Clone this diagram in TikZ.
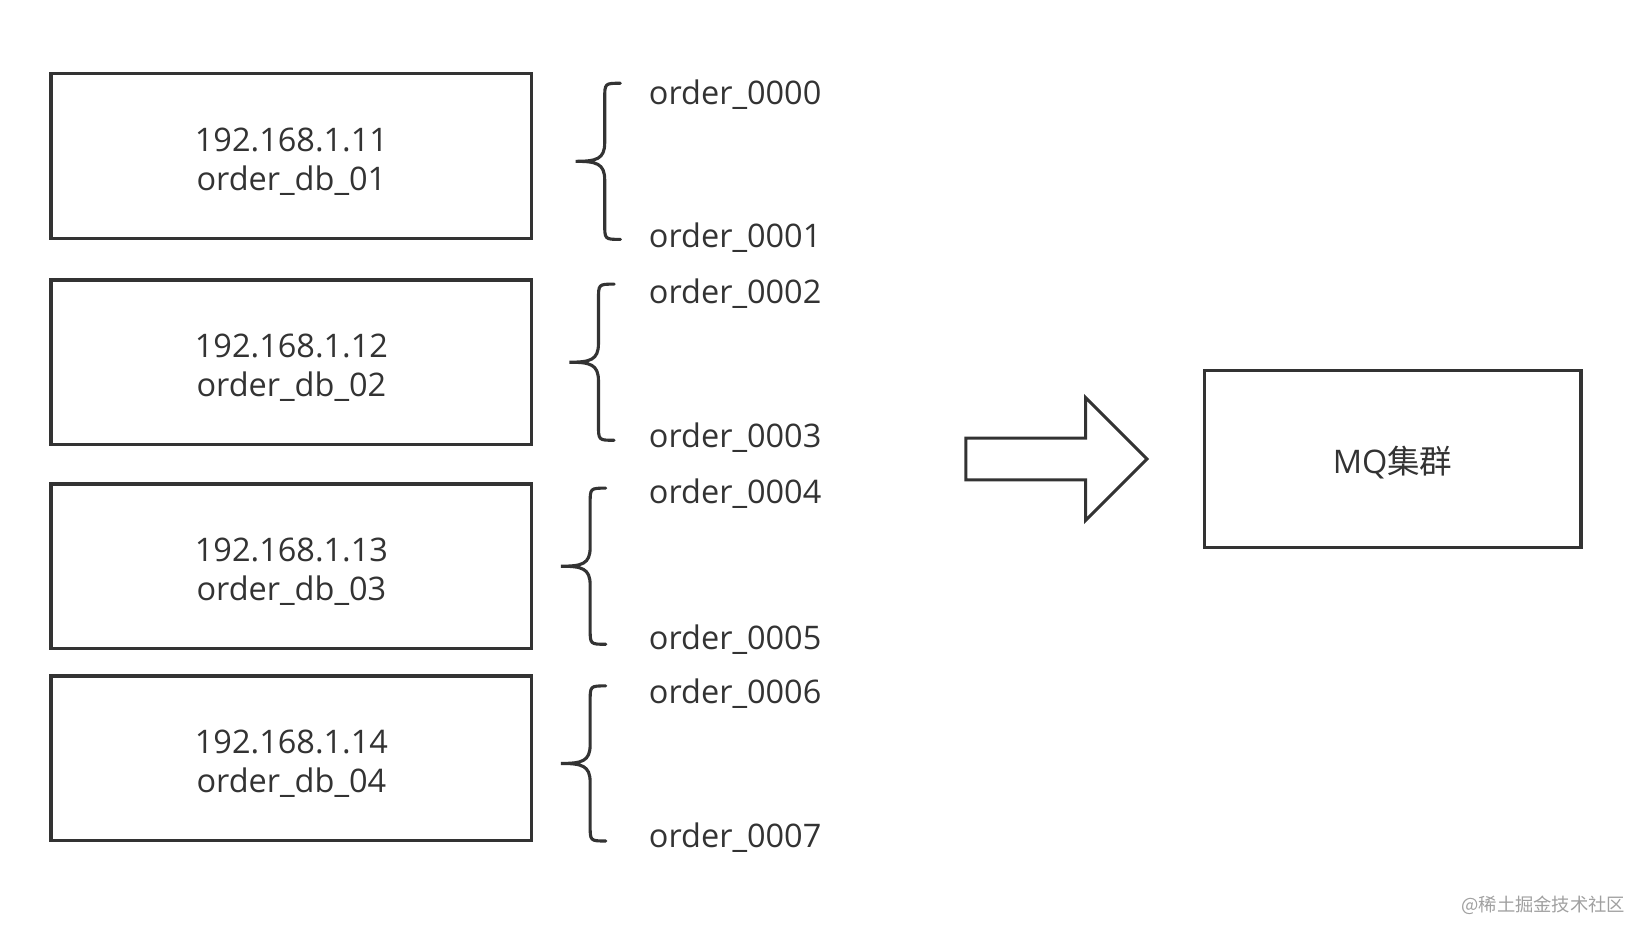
\documentclass[tikz,border=0pt]{standalone}
\usepackage{fontspec}
\setmainfont{Open Sans}
\newfontfamily\cjk{Noto Sans CJK SC}
\definecolor{ink}{HTML}{333333}
\definecolor{mark}{HTML}{A0A0A0}
\newcommand\lift{\rule{0pt}{17pt}}
\begin{document}
\begin{tikzpicture}[
                        x = 0.5pt,
                        y = -0.5pt,
                        line width = 1.5pt,
                        color = ink,
                        font = \fontsize{15.6}{18.75}\selectfont
                        ]

                        \tikzstyle{db}=[
                                draw = ink,
                                rectangle,
                                fill = white,
                                align = center,
                                minimum width = 231pt,
                                minimum height = 79pt
                        ]
                        \tikzstyle{table}=[
                                anchor = base west,
                                inner sep = 0pt
                        ]

                        \useasboundingbox (0,0) rectangle (1568,888);

                        \node[db] (1) at (280,150) {\lift 192.168.1.11\\order\_db\_01};
                        \node[db] (2) at (280,348) {\lift 192.168.1.12\\order\_db\_02};
                        \node[db] (3) at (280,544) {\lift 192.168.1.13\\order\_db\_03};
                        \node[db] (4) at (280,728.5) {\lift 192.168.1.14\\order\_db\_04};
                        \node[db, minimum width = 181pt, minimum height = 85pt] (5) at (1338,441) {\lift MQ{\cjk 集群}};

                        \node[table] (t0) at (622,100) {order\_0000};
                        \node[table] (t1) at (622,238) {order\_0001};
                        \node[table] (t2) at (622,292) {order\_0002};
                        \node[table] (t3) at (622,430) {order\_0003};
                        \node[table] (t4) at (622,484) {order\_0004};
                        \node[table] (t5) at (622,624) {order\_0005};
                        \node[table] (t6) at (622,676) {order\_0006};
                        \node[table] (t7) at (622,814) {order\_0007};

                        % braces
                        \foreach \yt/\yb/\xv in {80/230/581, 273/423/575, 469/619/567, 659/808/567}
                                \draw[line cap = round] ({\xv+15},\yt) .. controls (\xv,\yt) .. (\xv,{\yt+15})
                                        -- (\xv,{(\yt+\yb)/2-18}) .. controls (\xv,{(\yt+\yb)/2-2}) and ({\xv-8},{(\yt+\yb)/2}) .. ({\xv-28},{(\yt+\yb)/2})
                                        .. controls ({\xv-8},{(\yt+\yb)/2}) and (\xv,{(\yt+\yb)/2+2}) .. (\xv,{(\yt+\yb)/2+18})
                                        -- (\xv,{\yb-15}) .. controls (\xv,\yb) .. ({\xv+15},\yb);

                        \draw[fill = white, line join = miter] (928,421) -- (1043,421) -- (1043,382) -- (1102,441)
                                -- (1043,500) -- (1043,461) -- (928,461) -- cycle;

                        \node[anchor = east, inner sep = 0pt, text = mark, font = \cjk\fontsize{8.8}{10}\selectfont] (wm) at (1563,870) {@稀土掘金技术社区};
                \end{tikzpicture}
\end{document}
